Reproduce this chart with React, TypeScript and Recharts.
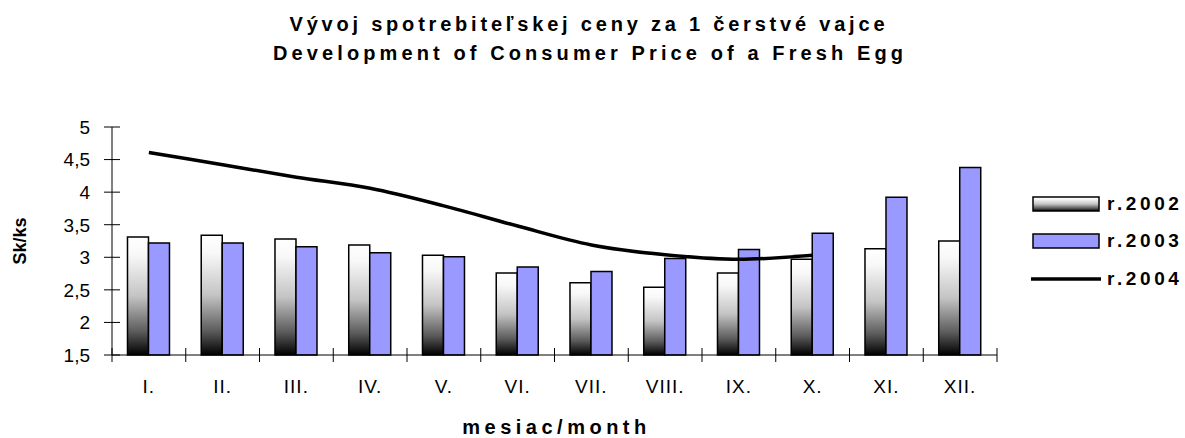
import React from 'react';
import { ComposedChart, Bar, Line, XAxis, YAxis, Legend, Label } from 'recharts';

// ---- data ----
const months = ['I.', 'II.', 'III.', 'IV.', 'V.', 'VI.', 'VII.', 'VIII.', 'IX.', 'X.', 'XI.', 'XII.'];
const r2002 = [3.31, 3.34, 3.28, 3.19, 3.03, 2.76, 2.61, 2.54, 2.76, 2.97, 3.13, 3.25];
const r2003 = [3.22, 3.22, 3.16, 3.07, 3.01, 2.85, 2.78, 2.98, 3.12, 3.37, 3.92, 4.38];
const r2004: (number | null)[] = [4.61, 4.42, 4.23, 4.06, 3.79, 3.48, 3.19, 3.04, 2.97, 3.03, null, null];
const yTicks = [1.5, 2, 2.5, 3, 3.5, 4, 4.5, 5];
const seriesNames: Record<string, string> = { r2002: 'r.2002', r2003: 'r.2003', r2004: 'r.2004' };
const titleLines = ['Vývoj spotrebiteľskej ceny za 1 čerstvé vajce', 'Development of Consumer Price of a Fresh Egg'];
const xTitle = 'mesiac/month';
const yTitle = 'Sk/ks';

const data = months.map((m, i) => ({ month: m, r2002: r2002[i], r2003: r2003[i], r2004: r2004[i] }));

// ---- layout ----
const W = 1185;
const H = 438;
const MARGIN = { top: 127, right: 188, bottom: 0, left: 0 };
const Y_W = 112;
const X_H = 83;
const PLOT_W = W - MARGIN.left - MARGIN.right - Y_W;
const BAND = PLOT_W / months.length;
const FONT = '"Liberation Sans", Arial, sans-serif';
const TITLE_POS = [
  { x: 587, y: 31, len: 595 },
  { x: 588, y: 60, len: 630 },
];

const YTick = (props: any) => {
  const { x, y, payload } = props;
  return (
    <g>
      <line x1={x - 8} x2={x + 8} y1={y} y2={y} stroke="#000" strokeWidth={1} />
      <text x={x - 22} y={y} dy="0.36em" textAnchor="end" fontSize={19} fontFamily={FONT} fill="#000">
        {String(payload.value).replace('.', ',')}
      </text>
    </g>
  );
};

const XTick = (props: any) => {
  const { x, y, payload, index } = props;
  const half = BAND / 2;
  return (
    <g>
      <line x1={x - half} x2={x - half} y1={y - 7} y2={y + 7} stroke="#000" strokeWidth={1} />
      {index === months.length - 1 && (
        <line x1={x + half} x2={x + half} y1={y - 7} y2={y + 7} stroke="#000" strokeWidth={1} />
      )}
      <text x={x} y={y + 38} textAnchor="middle" fontSize={19} fontFamily={FONT} fill="#000" letterSpacing={1}>
        {payload.value}
      </text>
    </g>
  );
};

const LegendContent = (props: any) => {
  const { payload } = props;
  return (
    <div style={{ fontFamily: FONT }}>
      {(payload || []).map((p: any) => {
        const key = p.dataKey as string;
        return (
          <div key={key} style={{ height: 37.5, display: 'flex', alignItems: 'center' }}>
            <svg width={72} height={20} style={{ display: 'block' }}>
              {key === 'r2004' ? (
                <line x1={1} x2={71} y1={10} y2={10} stroke="#000" strokeWidth={3.5} />
              ) : (
                <rect
                  x={3}
                  y={3}
                  width={66}
                  height={14}
                  fill={key === 'r2002' ? 'url(#g2002)' : '#9999FF'}
                  stroke="#000"
                  strokeWidth={1.5}
                />
              )}
            </svg>
            <span
              style={{
                marginLeft: 5,
                fontSize: 19,
                fontWeight: 700,
                letterSpacing: 3.6,
                color: '#000',
                lineHeight: '20px',
              }}
            >
              {seriesNames[key]}
            </span>
          </div>
        );
      })}
    </div>
  );
};

export default function App() {
  return (
    <div style={{ position: 'absolute', left: 0, top: 0, width: W, height: H, background: '#fff', overflow: 'hidden' }}>
      <svg width={W} height={80} style={{ position: 'absolute', left: 0, top: 0 }}>
        <defs>
          <linearGradient id="g2002" x1="0" y1="0" x2="0" y2="1">
            <stop offset="0%" stopColor="#ffffff" />
            <stop offset="15%" stopColor="#f8f8f8" />
            <stop offset="50%" stopColor="#c4c4c4" />
            <stop offset="80%" stopColor="#5c5c5c" />
            <stop offset="100%" stopColor="#000000" />
          </linearGradient>
        </defs>
        {titleLines.map((t, i) => (
          <text
            key={i}
            x={TITLE_POS[i].x}
            y={TITLE_POS[i].y}
            textAnchor="middle"
            textLength={TITLE_POS[i].len}
            lengthAdjust="spacing"
            fontFamily={FONT}
            fontWeight={700}
            fontSize={20}
            fill="#000"
          >
            {t}
          </text>
        ))}
      </svg>
      <div style={{ position: 'absolute', left: 0, top: 0 }}>
        <ComposedChart width={W} height={H} data={data} margin={MARGIN} barCategoryGap="21%" barGap={0}>
          <XAxis
            dataKey="month"
            height={X_H}
            tickSize={0}
            tickMargin={0}
            tickLine={false}
            axisLine={{ stroke: '#000', strokeWidth: 1 }}
            tick={<XTick />}
            interval={0}
          >
            <Label
              position="insideBottom"
              content={(p: any) => {
                const vb = p.viewBox || { x: 0, width: 0, y: 0, height: 0 };
                return (
                  <text
                    x={vb.x + vb.width / 2 + 2}
                    y={vb.y + vb.height - 4}
                    textAnchor="middle"
                    fontFamily={FONT}
                    fontWeight={700}
                    fontSize={20}
                    letterSpacing={4.5}
                    fill="#000"
                  >
                    {xTitle}
                  </text>
                );
              }}
            />
          </XAxis>
          <YAxis
            type="number"
            domain={[1.5, 5]}
            ticks={yTicks}
            width={Y_W}
            tickSize={0}
            tickMargin={0}
            tickLine={false}
            axisLine={{ stroke: '#000', strokeWidth: 1 }}
            tick={<YTick />}
            interval={0}
          >
            <Label
              position="insideLeft"
              content={() => (
                <text
                  x={20}
                  y={241}
                  transform="rotate(-90 20 241)"
                  textAnchor="middle"
                  dominantBaseline="central"
                  fontFamily={FONT}
                  fontWeight={700}
                  fontSize={18}
                  fill="#000"
                >
                  {yTitle}
                </text>
              )}
            />
          </YAxis>
          <Legend
            layout="vertical"
            align="center"
            verticalAlign="middle"
            wrapperStyle={{ left: 1030, top: 185, width: 155 }}
            content={<LegendContent />}
          />
          <Bar dataKey="r2002" name="r.2002" fill="url(#g2002)" stroke="#000" strokeWidth={1.5} isAnimationActive={false} />
          <Bar dataKey="r2003" name="r.2003" fill="#9999FF" stroke="#000" strokeWidth={1.5} isAnimationActive={false} />
          <Line
            dataKey="r2004"
            name="r.2004"
            type="monotone"
            stroke="#000"
            strokeWidth={3.5}
            dot={false}
            activeDot={false}
            connectNulls={false}
            isAnimationActive={false}
            legendType="line"
          />
        </ComposedChart>
      </div>
    </div>
  );
}
